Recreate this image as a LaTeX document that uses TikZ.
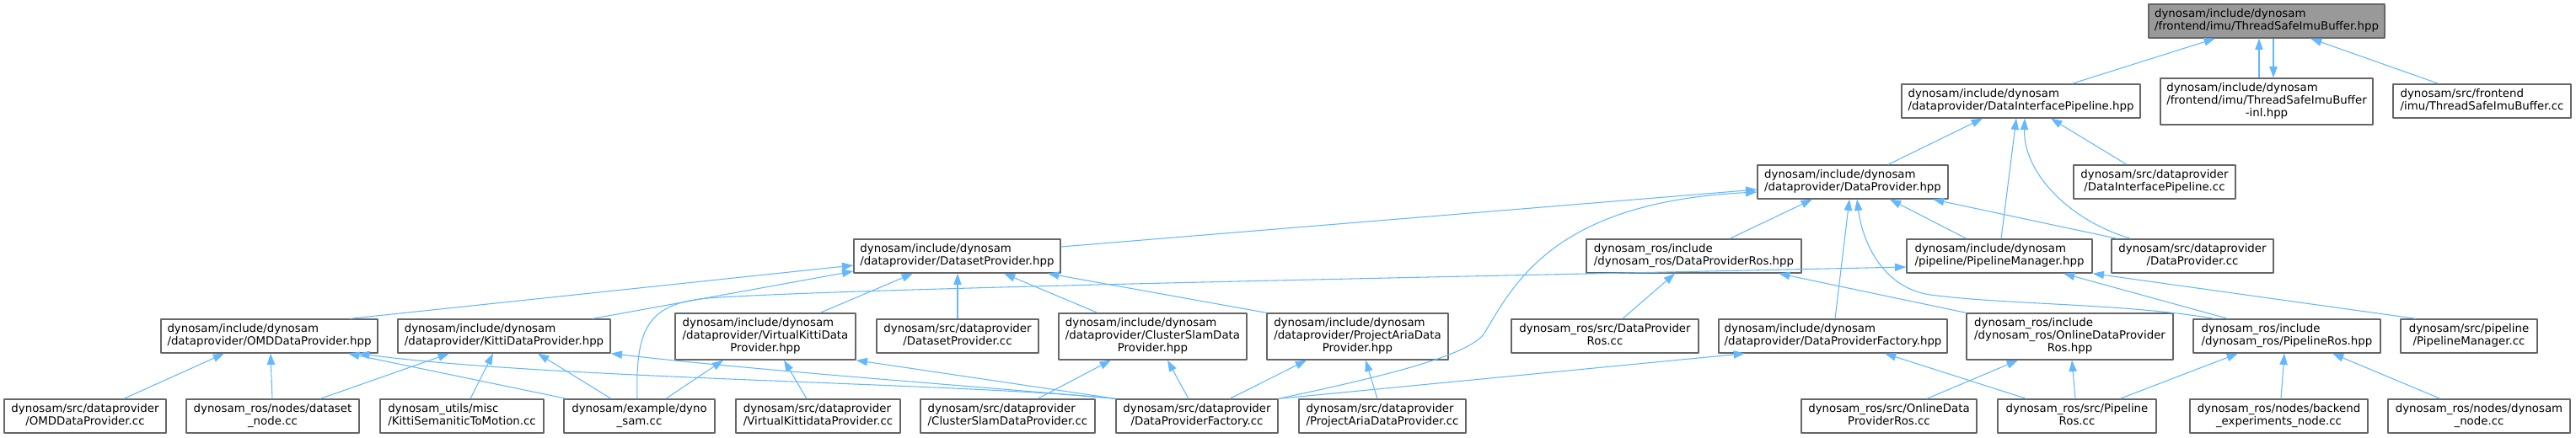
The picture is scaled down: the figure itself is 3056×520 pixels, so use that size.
\documentclass[tikz,border=0pt]{standalone}
\usepackage{fontspec}
\setmainfont{DejaVu Sans}
\usetikzlibrary{arrows.meta}
\definecolor{edgeblue}{HTML}{63B8FF}
\definecolor{boxline}{HTML}{666666}
\definecolor{rootfill}{HTML}{999999}
\newcommand{\fname}[2]{\begin{tabular}{@{}l@{}}#1\\\multicolumn{1}{@{}c@{}}{#2}\end{tabular}}
\begin{document}
\begin{tikzpicture}[x=0.75pt,y=-0.75pt,line join=round,
  file/.style={draw=boxline,fill=white,line width=1pt,inner sep=0pt,
    minimum height=40*0.75pt,font=\fontsize{10}{11.25}\selectfont},
  w/.style={minimum width=#1*0.75pt},
  tall/.style={minimum height=55*0.75pt},
  root/.style={file,fill=rootfill},
  dep/.style={draw=edgeblue,line width=0.8pt,-{Triangle[length=10pt,width=7pt]}}]
  \useasboundingbox (0,0) rectangle (3056,520);
  \node[root,w=280] (imuhpp) at (2689,25) {\fname{dynosam/include/dynosam}{/frontend/imu/ThreadSafeImuBuffer.hpp}};
  \node[file,w=283] (dip) at (2397.5,120) {\fname{dynosam/include/dynosam}{/dataprovider/DataInterfacePipeline.hpp}};
  \node[file,tall,w=252] (imuinl) at (2689,120.5) {\fname{dynosam/include/dynosam\\/frontend/imu/ThreadSafeImuBuffer}{-inl.hpp}};
  \node[file,w=211] (imucc) at (2944.5,120) {\fname{dynosam/src/frontend}{/imu/ThreadSafeImuBuffer.cc}};
  \node[file,w=226] (dp) at (2198,216) {\fname{dynosam/include/dynosam}{/dataprovider/DataProvider.hpp}};
  \node[file,w=192] (dipcc) at (2556,216) {\fname{dynosam/src/dataprovider}{/DataInterfacePipeline.cc}};
  \node[file,w=245] (dsp) at (1135.5,304) {\fname{dynosam/include/dynosam}{/dataprovider/DatasetProvider.hpp}};
  \node[file,w=255] (dpros) at (2009.5,304) {\fname{dynosam\_ros/include}{/dynosam\_ros/DataProviderRos.hpp}};
  \node[file,w=220] (pm) at (2372,304) {\fname{dynosam/include/dynosam}{/pipeline/PipelineManager.hpp}};
  \node[file,w=192] (dpcc) at (2601,304) {\fname{dynosam/src/dataprovider}{/DataProvider.cc}};
  \node[file,w=257] (omd) at (319.5,399) {\fname{dynosam/include/dynosam}{/dataprovider/OMDDataProvider.hpp}};
  \node[file,w=252] (kitti) at (598,399) {\fname{dynosam/include/dynosam}{/dataprovider/KittiDataProvider.hpp}};
  \node[file,tall,w=214] (vk) at (908,399.5) {\fname{dynosam/include/dynosam\\/dataprovider/VirtualKittiData}{Provider.hpp}};
  \node[file,w=192] (dspcc) at (1136,399) {\fname{dynosam/src/dataprovider}{/DatasetProvider.cc}};
  \node[file,tall,w=223] (cs) at (1367.5,399.5) {\fname{dynosam/include/dynosam\\/dataprovider/ClusterSlamData}{Provider.hpp}};
  \node[file,tall,w=215] (pa) at (1610.5,399.5) {\fname{dynosam/include/dynosam\\/dataprovider/ProjectAriaData}{Provider.hpp}};
  \node[file,w=222] (dproscc) at (1904,399) {\fname{dynosam\_ros/src/DataProvider}{Ros.cc}};
  \node[file,w=271] (dpf) at (2174.5,399) {\fname{dynosam/include/dynosam}{/dataprovider/DataProviderFactory.hpp}};
  \node[file,tall,w=245] (odpros) at (2455.5,399.5) {\fname{dynosam\_ros/include\\/dynosam\_ros/OnlineDataProvider}{Ros.hpp}};
  \node[file,w=222] (pros) at (2713,399) {\fname{dynosam\_ros/include}{/dynosam\_ros/PipelineRos.hpp}};
  \node[file,w=162] (pmcc) at (2929,399) {\fname{dynosam/src/pipeline}{/PipelineManager.cc}};
  \node[file,w=192] (omdcc) at (101,494) {\fname{dynosam/src/dataprovider}{/OMDDataProvider.cc}};
  \node[file,w=205] (dsnode) at (323.5,494) {\fname{dynosam\_ros/nodes/dataset}{\_node.cc}};
  \node[file,w=194] (kstm) at (548,494) {\fname{dynosam\_utils/misc}{/KittiSemaniticToMotion.cc}};
  \node[file,w=179] (dynosam) at (758.5,494) {\fname{dynosam/example/dyno}{\_sam.cc}};
  \node[file,w=195] (vkcc) at (970.5,494) {\fname{dynosam/src/dataprovider}{/VirtualKittidataProvider.cc}};
  \node[file,w=207] (cscc) at (1195.5,494) {\fname{dynosam/src/dataprovider}{/ClusterSlamDataProvider.cc}};
  \node[file,w=192] (dpfcc) at (1420,494) {\fname{dynosam/src/dataprovider}{/DataProviderFactory.cc}};
  \node[file,w=198] (pacc) at (1640,494) {\fname{dynosam/src/dataprovider}{/ProjectAriaDataProvider.cc}};
  \node[file,w=208] (odproscc) at (2241,494) {\fname{dynosam\_ros/src/OnlineData}{ProviderRos.cc}};
  \node[file,w=188] (proscc) at (2464,494) {\fname{dynosam\_ros/src/Pipeline}{Ros.cc}};
  \node[file,w=211] (backend) at (2703.5,494) {\fname{dynosam\_ros/nodes/backend}{\_experiments\_node.cc}};
  \node[file,w=216] (dnode) at (2941,494) {\fname{dynosam\_ros/nodes/dynosam}{\_node.cc}};
  \draw[dep] (dip.north -| 2458,0) -- (imuhpp.south -| 2628,0);
  \draw[dep] (imuinl.north -| 2680,0) -- (imuhpp.south -| 2680,0);
  \draw[dep] (imuhpp.south -| 2697,0) -- (imuinl.north -| 2697,0);
  \draw[dep] (imucc.north -| 2893,0) -- (imuhpp.south -| 2741,0);
  \draw[dep] (dp.north -| 2240,0) -- (dip.south -| 2352,0);
  \draw[dep] (pm.north -| 2374,0) -- (dip.south -| 2392,0);
  \draw[dep] (dpcc.north -| 2528,0) .. controls (2455,262) and (2400,205) .. (dip.south -| 2402,0);
  \draw[dep] (dipcc.north -| 2523,0) -- (dip.south -| 2433,0);
  \draw[dep] (dsp.east |- 0,293) -- (dp.west |- 0,225);
  \draw[dep] (dpfcc.north east) .. controls (1650,445) and (1740,422) .. (1760,397)
    .. controls (1795,340) and (1840,240) .. (dp.west |- 0,228);
  \draw[dep] (dpros.north -| 2052,0) -- (dp.south -| 2150,0);
  \draw[dep] (pm.north -| 2333,0) -- (dp.south -| 2242,0);
  \draw[dep] (dpcc.north -| 2512,0) -- (dp.south -| 2293,0);
  \draw[dep] (dpf.north -| 2177,0) -- (dp.south -| 2194,0);
  \draw[dep] (pros.north -| 2627,0) .. controls (2520,360) and (2380,362) .. (2290,350)
    .. controls (2235,342) and (2210,290) .. (dp.south -| 2203,0);
  \draw[dep] (odpros.north west) -- (dpros.south -| 2110,0);
  \draw[dep] (dproscc.north -| 1925,0) -- (dpros.south -| 1987,0);
  \draw[dep] (omd.north -| 415,0) -- (dsp.west |- 0,315);
  \draw[dep] (kitti.north -| 703,0) -- (dsp.west |- 0,322);
  \draw[dep] (vk.north -| 973,0) -- (dsp.south -| 1083,0);
  \draw[dep] (dspcc.north -| 1136,0) -- (dsp.south -| 1136,0);
  \draw[dep] (cs.north -| 1302,0) -- (dsp.south -| 1191,0);
  \draw[dep] (pa.north west) -- (dsp.south -| 1243,0);
  \draw[dep] (omdcc.north -| 147,0) -- (omd.south -| 266,0);
  \draw[dep] (dsnode.north -| 323,0) -- (omd.south -| 321,0);
  \draw[dep] (dynosam.north -| 672,0) -- (omd.south -| 413,0);
  \draw[dep] (dpfcc.north west) .. controls (1150,455) and (650,450) .. (omd.south -| 425,0);
  \draw[dep] (dsnode.north -| 380,0) -- (kitti.south -| 533,0);
  \draw[dep] (kstm.north -| 558,0) -- (kitti.south -| 585,0);
  \draw[dep] (dynosam.north -| 725,0) -- (kitti.south -| 638,0);
  \draw[dep] (dpfcc.north west) .. controls (1150,458) and (900,440) .. (kitti.south east);
  \draw[dep] (dynosam.north -| 790,0) -- (vk.south -| 858,0);
  \draw[dep] (vkcc.north -| 957,0) -- (vk.south -| 930,0);
  \draw[dep] (dpfcc.north west) -- (vk.south east);
  \draw[dep] (cscc.north -| 1231,0) -- (cs.south -| 1318,0);
  \draw[dep] (dpfcc.north -| 1410,0) -- (cs.south -| 1385,0);
  \draw[dep] (dpfcc.north -| 1459,0) -- (pa.south -| 1550,0);
  \draw[dep] (pacc.north -| 1634,0) -- (pa.south -| 1620,0);
  \draw[dep] (dpfcc.north east) -- (dpf.south -| 2070,0);
  \draw[dep] (dynosam.north -| 756,0) .. controls (754,395) and (765,360) .. (840,354)
    .. controls (1000,342) and (1800,327) .. (pm.west |- 0,317);
  \draw[dep] (pros.north -| 2643,0) -- (pm.south -| 2448,0);
  \draw[dep] (pmcc.north -| 2866,0) -- (pm.south east);
  \draw[dep] (proscc.north -| 2404,0) -- (dpf.south -| 2236,0);
  \draw[dep] (odproscc.north -| 2286,0) -- (odpros.south -| 2394,0);
  \draw[dep] (proscc.north -| 2462,0) -- (odpros.south -| 2458,0);
  \draw[dep] (proscc.north -| 2515,0) -- (pros.south -| 2655,0);
  \draw[dep] (backend.north -| 2706,0) -- (pros.south -| 2710,0);
  \draw[dep] (dnode.north -| 2895,0) -- (pros.south -| 2767,0);
\end{tikzpicture}
\end{document}
